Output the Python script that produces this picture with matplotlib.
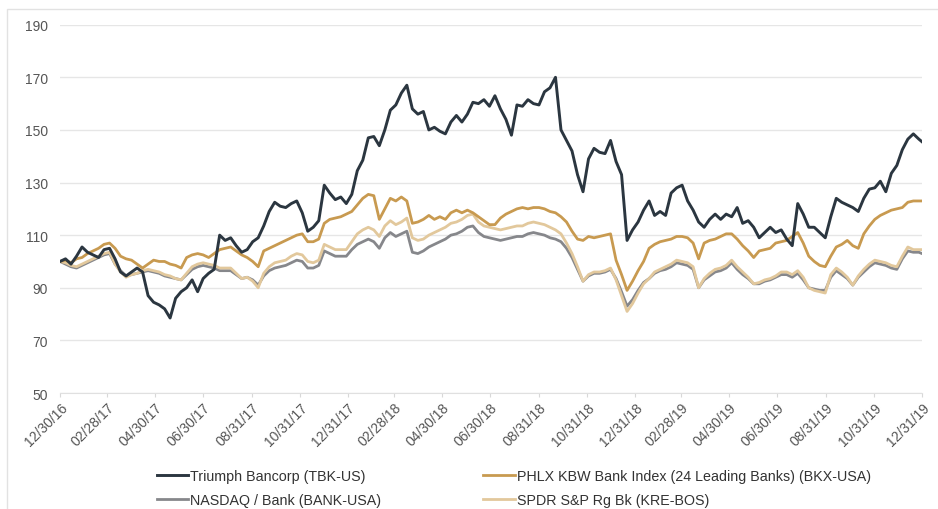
import pandas as pd
import matplotlib
matplotlib.use("Agg")
from matplotlib import pyplot as plt
from matplotlib.patches import Rectangle
import matplotlib.dates as mdates

# weekly closes, indexed to 100 at 12/30/16
dates = list(pd.date_range("2016-12-30", periods=157, freq="7D")) + [pd.Timestamp("2019-12-31")]

tbk = [100, 101, 99, 102, 105.5, 103.5, 102.5, 101.5, 104.5, 105,
       101, 96, 94.5, 96, 97.5, 96, 87, 84.5, 83.5, 82,
       78.5, 86, 88.5, 90, 93, 88.5, 93.5, 95.5, 97, 110,
       108, 109, 106, 103.5, 104.5, 107.5, 109, 113.5, 119, 122.5,
       121, 120.5, 122, 123, 118.5, 111.5, 113, 115.5, 129, 126,
       123.5, 124.5, 122, 125.5, 134.5, 138.5, 147, 147.5, 144, 150,
       157.5, 159.5, 164, 167, 158, 156, 157, 150, 151, 149.5,
       148.5, 153, 155.5, 153, 156, 160.5, 160, 161.5, 159, 163,
       158, 154, 148, 159.5, 159, 161.5, 160, 159.5, 164.5, 166,
       170, 150, 146, 142, 133, 126.5, 139, 143, 141.5, 141,
       146, 138, 133, 108, 112, 115, 119.5, 123, 117.5, 119,
       117.5, 126, 128, 129, 123, 119.5, 115, 113, 116, 118,
       116, 118, 117, 120.5, 114.5, 115.5, 113, 109, 111, 113,
       111, 112, 108.5, 106, 122, 118, 113, 113, 111, 109,
       117, 124, 122.5, 121.5, 120.5, 119, 124, 127.5, 128, 130.5,
       126.5, 133.5, 136.5, 142.5, 146.5, 148.5, 146.5, 145.5]

bkx = [100, 100.5, 99.5, 101, 101.5, 103, 104, 105, 106.5, 107,
       105, 102, 101, 100.5, 99, 97.5, 99, 100.5, 100, 100,
       99, 98.5, 97.5, 101.5, 102.5, 103, 102.5, 101.5, 103, 104.5,
       105, 105.5, 104, 102.5, 101.5, 100, 98, 104, 105, 106,
       107, 108, 109, 110, 110.5, 107.5, 107.5, 108.5, 114.5, 116,
       116.5, 117, 118, 119, 121.5, 124, 125.5, 125, 116, 120,
       124, 123, 124.5, 123, 114.5, 115, 116, 117.5, 116, 117,
       116, 118.5, 119.5, 118.5, 119.5, 118.5, 117, 115.5, 114, 114,
       116.5, 118, 119, 120, 120.5, 120, 120.5, 120.5, 120, 119,
       118.5, 117, 115, 111.5, 108.5, 108, 109.5, 109, 109.5, 110,
       110.5, 100.5, 95, 89, 92.5, 96.5, 100, 105, 106.5, 107.5,
       108, 108.5, 109.5, 109.5, 109, 107, 101, 107, 108, 108.5,
       109.5, 110.5, 110.5, 108.5, 106, 104, 101.5, 104, 104.5, 105,
       107, 107.5, 108, 109.5, 111, 107, 102, 100, 98.5, 98,
       102, 105.5, 106.5, 108, 106, 105, 110.5, 113.5, 116, 117.5,
       118.5, 119.5, 120, 120.5, 122.5, 123, 123, 123]

bank = [100, 99, 98, 97.5, 98.5, 99.5, 100.5, 101.5, 102.5, 103,
        99, 96.5, 94.5, 95, 95.5, 96, 96.5, 96, 95.5, 94.5,
        94, 93.5, 93, 95, 97, 98, 98.5, 98, 97.5, 96.5,
        96.5, 96.5, 95, 93.5, 94, 93, 91, 94.5, 96.5, 97.5,
        98, 98.5, 99.5, 100.5, 100, 97.5, 97.5, 98.5, 104, 103,
        102, 102, 102, 104.5, 106.5, 107.5, 108.5, 107.5, 105, 109,
        111, 109.5, 110.5, 111.5, 103.5, 103, 104, 105.5, 106.5, 107.5,
        108.5, 110, 110.5, 111.5, 113, 113.5, 111, 109.5, 109, 108.5,
        108, 108.5, 109, 109.5, 109.5, 110.5, 111, 110.5, 110, 109,
        108.5, 107.5, 105, 101.5, 97, 92.5, 94.5, 95.5, 95.5, 96,
        97, 93.5, 88.5, 83, 85.5, 89, 92, 93.5, 95.5, 96.5,
        97, 98, 99.5, 99, 98.5, 97, 90, 93, 94.5, 96,
        96.5, 97.5, 99.5, 97, 95, 93.5, 91.5, 91.5, 92.5, 93,
        94, 95, 95, 94, 95.5, 93, 90, 89.5, 89, 89,
        94, 96.5, 95, 93.5, 91, 94, 96, 98, 99.5, 99,
        98.5, 97.5, 97, 101, 104, 103.5, 103.5, 103]

kre = [100, 99.5, 98.5, 98, 99, 100, 101, 102, 103, 103.5,
       99, 96, 94, 95, 95.5, 96.5, 97, 96.5, 96, 95,
       94.5, 93.5, 93, 95.5, 98, 99, 99.5, 99, 98.5, 97.5,
       97.5, 97.5, 95.5, 93.5, 94, 92.5, 90, 95.5, 98, 99.5,
       100, 100.5, 102, 103, 102.5, 100, 99.5, 100.5, 106.5, 105.5,
       104.5, 104.5, 104.5, 107.5, 110.5, 112, 113, 112, 109.5, 113.5,
       115.5, 114, 115, 116.5, 109, 108, 108.5, 110, 111, 112,
       113, 114.5, 115, 116, 117.5, 118, 115, 113.5, 113, 112.5,
       112, 112.5, 113, 113.5, 113.5, 114.5, 115, 114.5, 114, 113,
       112, 110.5, 107, 103, 98, 92.5, 95, 96, 96, 96.5,
       97.5, 93, 87, 81, 84, 88, 91.5, 93.5, 96, 97,
       98, 99, 100.5, 100, 99.5, 98, 90, 93.5, 95.5, 97,
       97.5, 98.5, 100.5, 98, 96, 94, 91.5, 92, 93, 93.5,
       94.5, 96, 96, 95, 96.5, 94, 90, 89, 88.5, 88,
       95, 97.5, 96, 94, 91, 94.5, 97, 99, 100.5, 100,
       99.5, 98.5, 98, 102, 105.5, 104.5, 104.5, 104.5]

series_names = ["Triumph Bancorp (TBK-US)",
                "PHLX KBW Bank Index (24 Leading Banks) (BKX-USA)",
                "NASDAQ / Bank (BANK-USA)",
                "SPDR S&P Rg Bk (KRE-BOS)"]

tick_dates = ["2016-12-30", "2017-02-28", "2017-04-30", "2017-06-30", "2017-08-31",
              "2017-10-31", "2017-12-31", "2018-02-28", "2018-04-30", "2018-06-30",
              "2018-08-31", "2018-10-31", "2018-12-31", "2019-02-28", "2019-04-30",
              "2019-06-30", "2019-08-31", "2019-10-31", "2019-12-31"]
y_ticks = [50, 70, 90, 110, 130, 150, 170, 190]

plt.rcParams["font.family"] = ["Liberation Sans", "DejaVu Sans"]

fig = plt.figure(figsize=(9.38, 5.10), dpi=100)
ax = fig.add_axes([60 / 938, 1 - 394 / 510, 862 / 938, (394 - 25.7) / 510])

# order of drawing: light lines first, company on top
l_bank, = ax.plot(dates, bank, color="#86878b", lw=2.0, zorder=3)
l_kre, = ax.plot(dates, kre, color="#e2c89c", lw=2.0, zorder=4)
l_bkx, = ax.plot(dates, bkx, color="#c89a50", lw=2.0, zorder=5)
l_tbk, = ax.plot(dates, tbk, color="#2b3640", lw=2.1, zorder=6)

ax.set_ylim(50, 190)
ax.set_yticks(y_ticks)
ax.set_xlim(pd.Timestamp(tick_dates[0]), pd.Timestamp(tick_dates[-1]))
ax.set_xticks([pd.Timestamp(d) for d in tick_dates])
ax.xaxis.set_major_formatter(mdates.DateFormatter("%m/%d/%y"))

ax.grid(axis="y", color="#e6e6e6", lw=1)
ax.set_axisbelow(True)
for s in ["top", "right", "left"]:
    ax.spines[s].set_visible(False)
ax.spines["bottom"].set_color("#e0e0e0")

ax.tick_params(axis="y", length=0, pad=8.5, labelsize=10, labelcolor="#555555")
ax.tick_params(axis="x", length=3, color="#d8d8d8", pad=2, labelsize=10, labelcolor="#555555")
for lab in ax.get_xticklabels():
    lab.set_rotation(45)
    lab.set_ha("right")
    lab.set_rotation_mode("anchor")

fig.legend([l_tbk, l_bank, l_bkx, l_kre],
           [series_names[0], series_names[2], series_names[1], series_names[3]],
           ncol=2, loc="upper left", bbox_to_anchor=(151 / 938, 1 - 464 / 510),
           frameon=False, fontsize=10.3, handlelength=2.2, handletextpad=0.15,
           columnspacing=7.1, labelspacing=0.72, labelcolor="#333333",
           borderaxespad=0, borderpad=0.4)

# light frame round the chart
fig.patches.append(Rectangle((7 / 938, -0.1), 1.2, 1.1 - 10 / 510, transform=fig.transFigure,
                             fill=False, edgecolor="#e2e2e2", lw=1))

fig.savefig("out.png", dpi=100)
